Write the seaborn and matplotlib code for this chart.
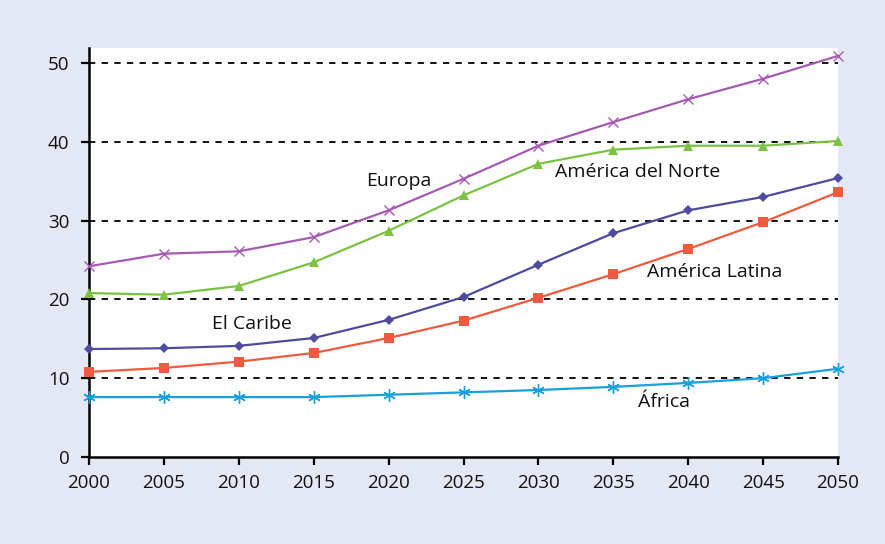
import matplotlib
matplotlib.use("Agg")
import matplotlib.pyplot as plt
import seaborn as sns
import pandas as pd

years = [2000, 2005, 2010, 2015, 2020, 2025, 2030, 2035, 2040, 2045, 2050]
europa = [24.2, 25.8, 26.1, 27.9, 31.3, 35.3, 39.5, 42.5, 45.4, 48.0, 50.9]
america_norte = [20.8, 20.6, 21.7, 24.7, 28.7, 33.2, 37.2, 39.0, 39.5, 39.5, 40.1]
el_caribe = [13.7, 13.8, 14.1, 15.1, 17.4, 20.3, 24.4, 28.4, 31.3, 33.0, 35.4]
america_latina = [10.8, 11.3, 12.1, 13.2, 15.1, 17.3, 20.2, 23.2, 26.4, 29.8, 33.6]
africa = [7.6, 7.6, 7.6, 7.6, 7.9, 8.2, 8.5, 8.9, 9.4, 10.0, 11.2]

yticks = [0, 10, 20, 30, 40, 50]

sns.set_theme(style="white")
plt.rcParams['font.family'] = ['Open Sans', 'DejaVu Sans']

bg = "#e4e8f4"
fig = plt.figure(figsize=(8.85, 5.44), dpi=100, facecolor=bg)
ax = fig.add_axes([89/885, 1-457/544, (838-89)/885, (457-48)/544])
ax.set_facecolor("white")

series = [
    ("Europa", europa, "#a45bb0", "x", 7, 1.0),
    ("América del Norte", america_norte, "#7cc243", "^", 7, 0),
    ("El Caribe", el_caribe, "#4f4b9e", "D", 5, 0),
    ("América Latina", america_latina, "#f15a3e", "s", 7, 0),
    ("África", africa, "#1a9fdf", (6, 2, 0), 9, 1.0),
]

for name, vals, col, mk, ms, mew in series:
    df = pd.DataFrame({"year": years, "val": vals})
    kw = dict(markeredgewidth=mew if mew else 0)
    if mew:
        kw["markeredgecolor"] = col
    sns.lineplot(data=df, x="year", y="val", ax=ax, color=col, marker=mk,
                 markersize=ms, linewidth=1.6, clip_on=False, zorder=3, **kw)

for yv in yticks[1:]:
    ax.axhline(yv, color="black", linestyle=(0, (3.5, 3.5)), linewidth=1.3, zorder=0)

ax.set_xlim(2000, 2050)
ax.set_ylim(0, 51.9)
ax.set_xticks(years)
ax.set_yticks(yticks)
ax.set_xlabel("")
ax.set_ylabel("")
for s in ["top", "right"]:
    ax.spines[s].set_visible(False)
for s in ["left", "bottom"]:
    ax.spines[s].set_color("black")
    ax.spines[s].set_linewidth(1.8)
ax.tick_params(axis="both", which="both", direction="out", length=6, width=1.6,
               color="black", labelsize=13.5, labelcolor="#111111", pad=6,
               left=True, bottom=True)
ax.tick_params(axis="y", pad=8)

lab = dict(fontsize=14, color="#111111", ha="center", va="center")
ax.text(2020.7, 35.0, "Europa", **lab)
ax.text(2036.6, 36.2, "América del Norte", **lab)
ax.text(2041.8, 23.5, "América Latina", **lab)
ax.text(2010.9, 16.9, "El Caribe", **lab)
ax.text(2038.4, 7.0, "África", **lab)

fig.savefig("out.png", dpi=100, facecolor=bg)
